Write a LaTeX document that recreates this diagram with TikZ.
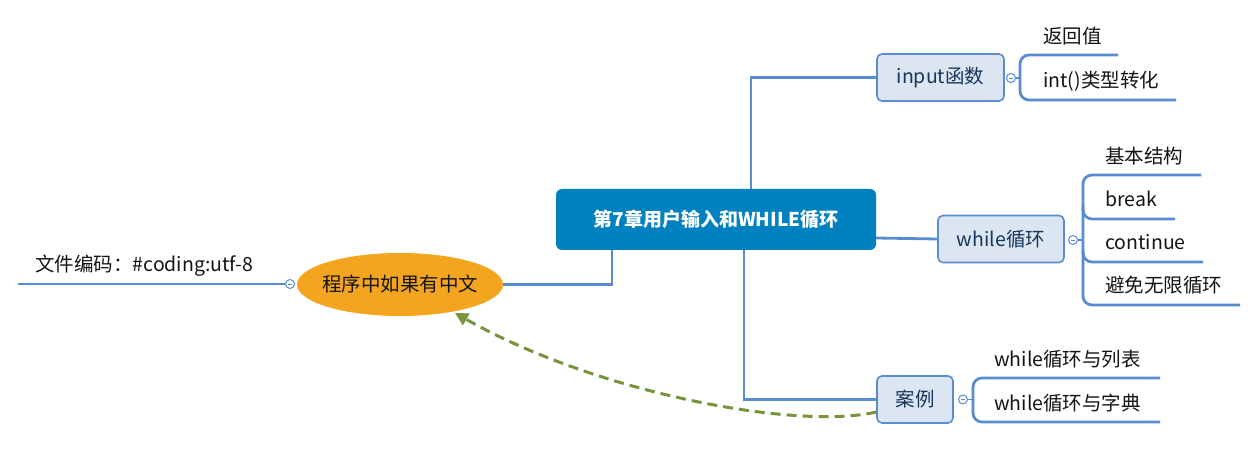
\documentclass[tikz,border=0pt]{standalone}
\usepackage{fontspec}
\setmainfont{Noto Sans CJK SC}
\usetikzlibrary{shapes.geometric,arrows.meta}
\definecolor{titlefill}{RGB}{2,129,192}
\definecolor{branch}{RGB}{88,141,212}
\definecolor{topicfill}{RGB}{220,230,242}
\definecolor{topictext}{RGB}{23,54,93}
\definecolor{orangefill}{RGB}{244,165,32}
\definecolor{relgreen}{RGB}{119,147,60}
\definecolor{leaftext}{RGB}{20,20,20}
\tikzset{
  branchline/.style={draw=branch, line width=2.8pt},
  topic/.style={draw=branch, line width=1.6pt, fill=topicfill, rounded corners=5pt,
    text=topictext, font=\fontsize{19.5}{22}\selectfont, minimum height=47pt, inner xsep=0pt},
  leaf/.style={anchor=base west, text=leaftext, font=\fontsize{19.5}{22}\selectfont, inner sep=0pt},
  knob/.style={circle, draw=branch, line width=1pt, fill=white, minimum size=9pt, inner sep=0pt,
    path picture={\draw[branch, line width=0.8pt] ([xshift=-2pt]path picture bounding box.center) -- ([xshift=2pt]path picture bounding box.center);}},
}
\begin{document}
\begin{tikzpicture}[x=1pt,y=-1pt]
\useasboundingbox[fill=white] (0,0) rectangle (1259,465);

% central topic
\node[fill=titlefill, rounded corners=6pt, minimum width=320pt, minimum height=61pt,
  text=white, font=\fontsize{19}{22}\selectfont\bfseries] (centre) at (716,219.5) {第7章用户输入和WHILE循环};

% main topics
\node[topic, minimum width=127pt] (inp) at (940.5,77.5) {input函数};
\node[topic, minimum width=126pt] (whl) at (1001,239) {while循环};
\node[topic, minimum width=76pt] (case) at (915,399.5) {案例};
\node[ellipse, fill=orangefill, inner xsep=-6pt, inner ysep=0pt,
  minimum width=206pt, minimum height=63pt,
  font=\fontsize{19.5}{22}\selectfont, text=leaftext] (prog) at (400,284.5) {程序中如果有中文};

% branches from the central topic
\draw[branchline] (751,189) |- (inp.west);
\draw[branchline] (876,238) -- (whl.west);
\draw[branchline] (744,250) |- (case.west);
\draw[branchline] (612,250) |- (prog.east);

% collapse knobs
\node[knob] (kinp) at (1011,78) {};
\node[knob] (kwhl) at (1073,240) {};
\node[knob] (kcase) at (963,399.5) {};
\node[knob] (kprog) at (290,284) {};

% input函数 children
\draw[branchline, rounded corners=9pt] (1118,55) -- (1020,55) -- (1020,100) -- (1176,100);
\draw[branchline, line width=1.6pt] (kinp.east) -- (1020,78);
\node[leaf] (l11) at (1043,44) {返回值};
\node[leaf] (l12) at (1043,88) {int()类型转化};

% while循环 children
\draw[branchline, rounded corners=9pt] (1201,175) -- (1083,175) -- (1083,305) -- (1240,305);
\draw[branchline, rounded corners=9pt] (1083,205) -- (1083,219) -- (1175,219);
\draw[branchline, rounded corners=9pt] (1083,250) -- (1083,262) -- (1203,262);
\draw[branchline, line width=1.6pt] (kwhl.east) -- (1083,240);
\node[leaf] (l21) at (1105,164) {基本结构};
\node[leaf] (l22) at (1105,207) {break};
\node[leaf] (l23) at (1105,250) {continue};
\node[leaf] (l24) at (1105,293) {避免无限循环};

% 案例 children
\draw[branchline, rounded corners=9pt] (1160,378) -- (973,378) -- (973,422) -- (1160,422);
\draw[branchline, line width=1.6pt] (kcase.east) -- (973,399.5);
\node[leaf] (l31) at (994,366) {while循环与列表};
\node[leaf] (l32) at (994,410) {while循环与字典};

% left child
\draw[branchline] (kprog.west) -- (18,284);
\node[leaf] (l41) at (35,272) {文件编码：\#coding:utf-8};

% relationship
\draw[relgreen, line width=3pt, dash pattern=on 10pt off 6pt,
  -{Triangle[length=13pt,width=13pt]}]
  (case.west |- 0,412) .. controls (800,430) and (600,395) .. (455,313);
\end{tikzpicture}
\end{document}
